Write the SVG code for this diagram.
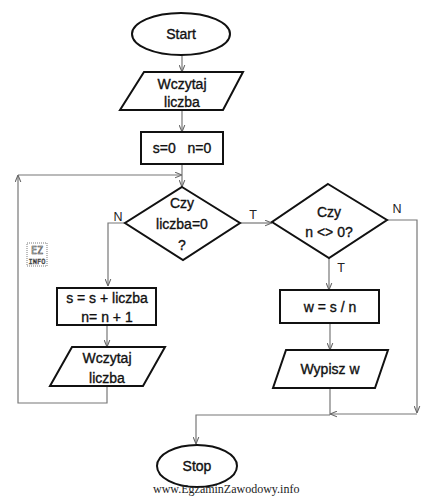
<svg xmlns="http://www.w3.org/2000/svg" width="446" height="496" viewBox="0 0 446 496">
<style>
.shape{fill:#fff;stroke:#111;stroke-width:2}
.t{font-family:"Liberation Sans",Arial,sans-serif;font-size:14px;fill:#111;stroke:#111;stroke-width:0.35;text-anchor:middle}
.lbl{font-family:"Liberation Sans",Arial,sans-serif;font-size:12.5px;fill:#222;text-anchor:middle}
.c{fill:none;stroke:#777;stroke-width:1.2}
.wm{font-family:"Liberation Serif","Times New Roman",serif;font-size:12px;fill:#222}
</style>
<defs>
<marker id="ah" viewBox="0 0 10 10" refX="10" refY="5" markerWidth="7" markerHeight="7" orient="auto" markerUnits="userSpaceOnUse">
<path d="M0,1 L10,5 L0,9" fill="none" stroke="#666" stroke-width="1.5"/>
</marker>
</defs>
<rect width="446" height="496" fill="#fff"/>

<g id="connectors">
<path class="c" d="M182,55 V72" marker-end="url(#ah)"/>
<path class="c" d="M182,110 V132" marker-end="url(#ah)"/>
<path class="c" d="M182,164 V187" marker-end="url(#ah)"/>
<path class="c" d="M107,386 V403 H18 V175" marker-end="url(#ah)"/>
<path class="c" d="M18,175 H182" marker-end="url(#ah)"/>
<path class="c" d="M125,223 H108 V286" marker-end="url(#ah)"/>
<path class="c" d="M107,325 V347" marker-end="url(#ah)"/>
<path class="c" d="M240,223 H272" marker-end="url(#ah)"/>
<path class="c" d="M329,258 V290" marker-end="url(#ah)"/>
<path class="c" d="M330,323 V350" marker-end="url(#ah)"/>
<path class="c" d="M330,388 V415"/>
<path class="c" d="M387,220 H417 V413" marker-end="url(#ah)"/>
<path class="c" d="M417,414 H330" marker-end="url(#ah)"/>
<path class="c" d="M330,415 H196 V444" marker-end="url(#ah)"/>
<text class="lbl" x="118" y="221">N</text>
<text class="lbl" x="253" y="219">T</text>
<text class="lbl" x="397" y="213">N</text>
<text class="lbl" x="341" y="272">T</text>
</g>

<g id="start">
<ellipse class="shape" cx="181" cy="34" rx="49" ry="21"/>
<text class="t" x="181" y="39">Start</text>
</g>

<g id="input1">
<polygon class="shape" points="144,72 243,72 223,110 120,110"/>
<text class="t" x="182" y="89">Wczytaj</text>
<text class="t" x="182" y="107">liczba</text>
</g>

<g id="init">
<rect class="shape" x="141" y="132" width="82" height="32"/>
<text class="t" x="182" y="153" xml:space="preserve">s=0   n=0</text>
</g>

<g id="decision1">
<polygon class="shape" points="182,187 240,223 183,260 125,223"/>
<text class="t" x="182" y="208">Czy</text>
<text class="t" x="182" y="229">liczba=0</text>
<text class="t" x="182" y="250">?</text>
</g>

<g id="update">
<rect class="shape" x="57" y="288" width="99" height="37"/>
<text class="t" x="107" y="303">s = s + liczba</text>
<text class="t" x="107" y="322">n= n + 1</text>
</g>

<g id="input2">
<polygon class="shape" points="72,347 165,347 143,386 50,386"/>
<text class="t" x="107" y="363">Wczytaj</text>
<text class="t" x="107" y="383">liczba</text>
</g>

<g id="decision2">
<polygon class="shape" points="328,184 387,220 329,258 272,222"/>
<text class="t" x="329" y="217">Czy</text>
<text class="t" x="329" y="237">n &lt;&gt; 0?</text>
</g>

<g id="compute">
<rect class="shape" x="280" y="290" width="99" height="33"/>
<text class="t" x="330" y="312">w = s / n</text>
</g>

<g id="output">
<polygon class="shape" points="286,350 388,350 375,388 273,388"/>
<text class="t" x="330" y="374">Wypisz w</text>
</g>

<g id="stop">
<ellipse class="shape" cx="197" cy="466" rx="40" ry="21"/>
<text class="t" x="197" y="471">Stop</text>
</g>

<g id="logo">
<rect x="27" y="243" width="20" height="23" fill="none" stroke="#444" stroke-width="0.7" stroke-dasharray="1,1"/>
<text x="37" y="254" font-family="'DejaVu Sans Mono',monospace" font-size="10" text-anchor="middle" fill="#fff" stroke="#333" stroke-width="0.5">EZ</text>
<text x="37" y="264" font-family="'DejaVu Sans Mono',monospace" font-size="7" text-anchor="middle" fill="#fff" stroke="#333" stroke-width="0.5">INFO</text>
</g>

<text class="wm" x="153" y="493">www.EgzaminZawodowy.info</text>
</svg>
